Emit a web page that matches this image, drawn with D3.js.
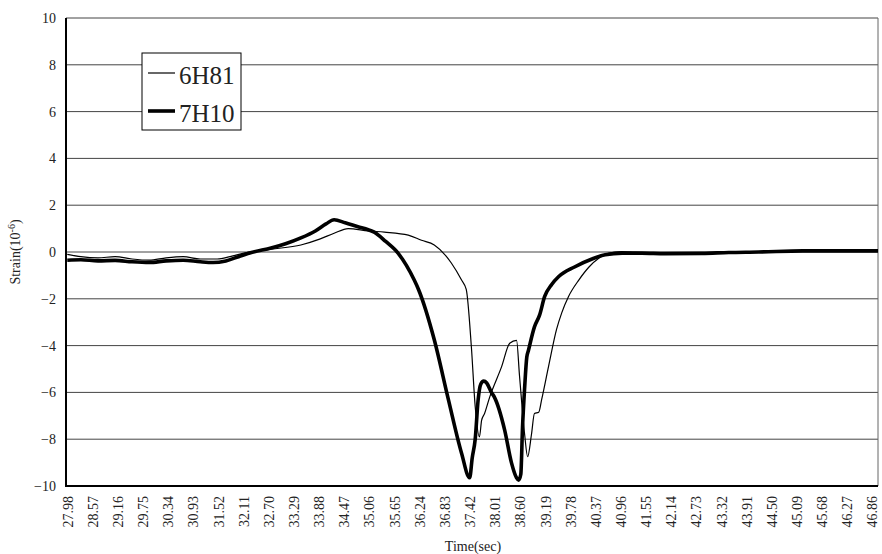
<!DOCTYPE html>
<html><head><meta charset="utf-8">
<script src="https://cdn.jsdelivr.net/npm/d3@7"></script>
<style>body{margin:0;background:#fff}svg{display:block}</style>
</head><body>
<svg id="c" width="882" height="554"></svg>
<script>
// ---- data ----
const seriesNames = ["6H81", "7H10"];
const t6H81 = [27.98,28.3,28.7,29.1,29.5,29.9,30.3,30.7,31.1,31.5,31.8,32.12,32.76,33.46,33.9,34.24,34.57,35.04,35.42,35.98,36.29,36.59,36.99,37.23,37.34,37.46,37.55,37.65,37.70,37.77,37.89,38.17,38.36,38.52,38.59,38.71,38.78,38.87,38.94,39.04,39.11,39.27,39.46,39.58,39.74,39.98,40.22,40.45,40.69,40.99,41.3,41.8,42.5,43.3,44.2,45.2,46.2,47.0];
const v6H81 = [-0.1,-0.2,-0.25,-0.2,-0.3,-0.35,-0.25,-0.2,-0.3,-0.3,-0.2,-0.05,0.12,0.3,0.55,0.8,1.0,0.9,0.85,0.72,0.5,0.3,-0.47,-1.2,-1.6,-4.05,-6.6,-7.9,-7.2,-6.9,-6.2,-4.9,-3.9,-3.78,-5.3,-7.8,-8.75,-7.8,-6.9,-6.85,-6.3,-4.9,-3.3,-2.6,-1.9,-1.2,-0.64,-0.27,-0.05,0.02,-0.02,-0.05,-0.05,0.0,0.02,0.05,0.05,0.05];
const t7H10 = [27.98,28.3,28.7,29.1,29.5,29.9,30.3,30.7,31.1,31.4,31.7,32.0,32.3,32.76,33.1,33.46,33.8,34.05,34.24,34.5,34.8,35.04,35.18,35.45,35.74,36.12,36.22,36.59,36.92,37.23,37.42,37.48,37.55,37.62,37.68,37.75,37.82,37.93,38.0,38.24,38.40,38.52,38.57,38.62,38.66,38.71,38.76,38.80,38.94,39.06,39.18,39.34,39.51,39.88,40.29,40.6,41.0,41.46,42.0,42.87,43.5,44.2,45.23,46.0,47.0];
const v7H10 = [-0.35,-0.33,-0.38,-0.36,-0.42,-0.45,-0.38,-0.35,-0.42,-0.45,-0.38,-0.2,-0.02,0.17,0.35,0.6,0.9,1.2,1.38,1.25,1.08,0.95,0.85,0.45,-0.05,-1.2,-1.6,-3.75,-6.3,-8.6,-9.65,-8.8,-8.0,-6.3,-5.65,-5.52,-5.6,-6.0,-6.2,-7.6,-9.0,-9.65,-9.75,-9.5,-7.5,-5.8,-4.5,-4.2,-3.2,-2.7,-1.9,-1.4,-1.05,-0.64,-0.3,-0.12,-0.05,-0.05,-0.07,-0.06,-0.02,0.0,0.05,0.05,0.05];
const yTicks = [10,8,6,4,2,0,-2,-4,-6,-8,-10];
const xTickLabels = ["27.98","28.57","29.16","29.75","30.34","30.93","31.52","32.11","32.70","33.29","33.88","34.47","35.06","35.65","36.24","36.83","37.42","38.01","38.60","39.19","39.78","40.37","40.96","41.55","42.14","42.73","43.32","43.91","44.50","45.09","45.68","46.27","46.86"];
const xTitle = "Time(sec)";

// ---- chart ----
const svg = d3.select("#c");
const L = 66, R = 878, T = 18, B = 486;
const x = d3.scaleLinear().domain([27.95, 47.0]).range([L, R]);
const y = d3.scaleLinear().domain([-10, 10]).range([B, T]);
const font = "'Liberation Serif','Times New Roman',serif";

// gridlines
svg.append("g").selectAll("line").data(yTicks).join("line")
  .attr("x1", L).attr("x2", R).attr("y1", d => y(d)).attr("y2", d => y(d))
  .attr("stroke", "#444").attr("stroke-width", 1);
// right border
svg.append("line").attr("x1", R).attr("x2", R).attr("y1", T).attr("y2", B).attr("stroke", "#666");

// y axis
const yAxis = d3.axisLeft(y).tickValues(yTicks).tickSize(0).tickPadding(10).tickFormat(d3.format("d"));
const gy = svg.append("g").attr("transform", `translate(${L},0)`).call(yAxis);
gy.select(".domain").remove();
gy.attr("font-family", font);
gy.selectAll("text").attr("font-family", font).attr("font-size", 14).attr("fill", "#222");

// x axis
const xAxis = d3.axisBottom(x).tickValues(xTickLabels.map(Number)).tickSize(0).tickFormat((d, i) => xTickLabels[i]);
const gx = svg.append("g").attr("transform", `translate(0,${B})`).call(xAxis);
gx.select(".domain").remove();
gx.attr("font-family", font);
gx.selectAll("text").attr("font-family", font).attr("font-size", 14).attr("fill", "#222")
  .attr("transform", "rotate(-90)").attr("text-anchor", "end").attr("x", -10).attr("y", 0).attr("dy", "0.35em");

// axis lines
svg.append("line").attr("x1", L).attr("x2", L).attr("y1", T).attr("y2", B + 1).attr("stroke", "#000").attr("stroke-width", 2);
svg.append("line").attr("x1", L).attr("x2", R).attr("y1", B).attr("y2", B).attr("stroke", "#000").attr("stroke-width", 2);

// lines
const line = d3.line().x(d => x(d[0])).y(d => y(d[1])).curve(d3.curveMonotoneX);
const d6 = t6H81.map((t, i) => [t, v6H81[i]]);
const d7 = t7H10.map((t, i) => [t, v7H10[i]]);
svg.append("path").datum(d6).attr("d", line).attr("fill", "none").attr("stroke", "#000").attr("stroke-width", 1.2);
svg.append("path").datum(d7).attr("d", line).attr("fill", "none").attr("stroke", "#000").attr("stroke-width", 3.6).attr("stroke-linejoin", "round");

// legend
const lg = svg.append("g");
lg.append("rect").attr("x", 142).attr("y", 53).attr("width", 99).attr("height", 77).attr("fill", "#fff").attr("stroke", "#000").attr("stroke-width", 1);
const items = [{n: seriesNames[0], w: 1.2, y: 73}, {n: seriesNames[1], w: 3.6, y: 111}];
lg.selectAll("line.s").data(items).join("line").attr("class", "s")
  .attr("x1", 148).attr("x2", 175).attr("y1", d => d.y).attr("y2", d => d.y)
  .attr("stroke", "#000").attr("stroke-width", d => d.w);
lg.selectAll("text").data(items).join("text")
  .attr("x", 179).attr("y", d => d.y + 11).text(d => d.n)
  .attr("font-family", font).attr("font-size", 25).attr("fill", "#222");

// axis titles
svg.append("text").attr("x", 473).attr("y", 551).attr("text-anchor", "middle")
  .attr("font-family", font).attr("font-size", 14).attr("fill", "#222").text(xTitle);
const yt = svg.append("text").attr("transform", "translate(20,252) rotate(-90)").attr("text-anchor", "middle")
  .attr("font-family", font).attr("font-size", 14).attr("fill", "#222");
yt.append("tspan").text("Strain(10");
yt.append("tspan").attr("dy", -5).attr("font-size", 10).text("-6");
yt.append("tspan").attr("dy", 5).text(")");
</script>
</body></html>
